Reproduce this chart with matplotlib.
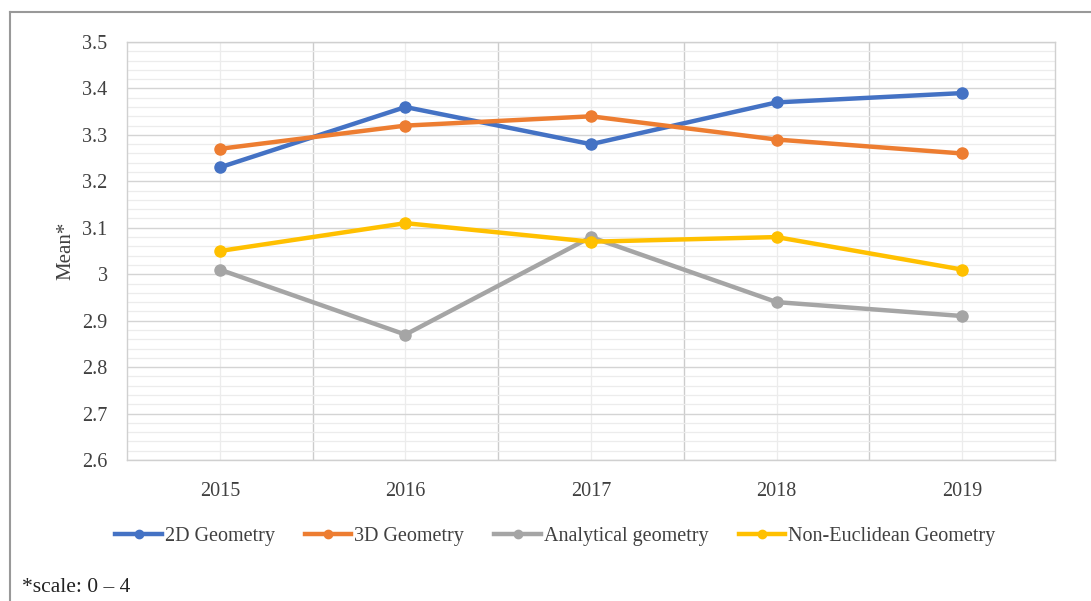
import numpy as np
import matplotlib
matplotlib.use("Agg")
from matplotlib import pyplot as plt
from matplotlib.lines import Line2D

# - - - - - - - DATA - - - - - - -
years = ["2015", "2016", "2017", "2018", "2019"]
geo_2d = [3.23, 3.36, 3.28, 3.37, 3.39]
geo_3d = [3.27, 3.32, 3.34, 3.29, 3.26]
analytical = [3.01, 2.87, 3.08, 2.94, 2.91]
non_euclid = [3.05, 3.11, 3.07, 3.08, 3.01]

series_names = ["2D Geometry", "3D Geometry", "Analytical geometry", "Non-Euclidean Geometry"]
series_colors = ["#4472c4", "#ed7d31", "#a5a5a5", "#ffc000"]

plt.rcParams["font.family"] = ["Liberation Serif", "DejaVu Serif"]

# - - - - - - - PLOT - - - - - - -
fig = plt.figure(figsize=(10.91, 6.01), dpi=100)
ax = fig.add_axes([0.1164, 0.2346, 0.8506, 0.6955])

x = np.arange(1, len(years) + 1)
for vals, name, col in zip([geo_2d, geo_3d, analytical, non_euclid], series_names, series_colors):
	ax.plot(x, vals, color=col, lw=3.2, marker="o", ms=8, label=name, zorder=3)

ax.set_xlim(0.5, len(years) + 0.5)
ax.set_ylim(2.6, 3.5)
ax.set_xticks(x)
ax.set_xticklabels(years)
ax.set_yticks(np.round(np.arange(2.6, 3.51, 0.1), 1))
ax.set_yticklabels(["2.6", "2.7", "2.8", "2.9", "3", "3.1", "3.2", "3.3", "3.4", "3.5"])
ax.set_yticks(np.arange(2.6, 3.5, 0.02), minor=True)
ax.set_xticks(np.arange(1.5, len(years), 1.0), minor=True)

# gridlines, excel style
ax.grid(True, which="major", axis="y", color="#d4d4d4", lw=1.0)
ax.grid(True, which="minor", axis="y", color="#ececec", lw=0.9)
ax.grid(True, which="minor", axis="x", color="#cccccc", lw=1.0)
ax.grid(True, which="major", axis="x", color="#ececec", lw=0.9)
ax.set_axisbelow(True)

ax.tick_params(which="both", length=0)
ax.tick_params(axis="both", labelsize=14.5, colors="#404040")
ax.tick_params(axis="x", pad=16)
ax.tick_params(axis="y", pad=14)
for s in ax.spines.values():
	s.set_color("#d0d0d0")
	s.set_linewidth(1.0)

ax.set_ylabel("Mean*", fontsize=15, color="#404040", labelpad=5)

handles, labels = ax.get_legend_handles_labels()
leg = fig.legend(handles, labels, loc="center", bbox_to_anchor=(0.509, 0.108), ncol=4, frameon=False,
	fontsize=14.5, handlelength=2.3, columnspacing=1.5, handletextpad=0.15, markerscale=0.75)
for t in leg.get_texts():
	t.set_color("#404040")

fig.text(0.02, 0.022, "*scale: 0 \u2013 4", fontsize=15.5, color="#222222", va="center")

# outer frame
fig.add_artist(Line2D([10 / 1091, 10 / 1091], [0, 1 - 12 / 601], transform=fig.transFigure, color="#999999", lw=1.5))
fig.add_artist(Line2D([10 / 1091, 1], [1 - 12 / 601, 1 - 12 / 601], transform=fig.transFigure, color="#999999", lw=1.5))

fig.savefig("out.png", dpi=100)
